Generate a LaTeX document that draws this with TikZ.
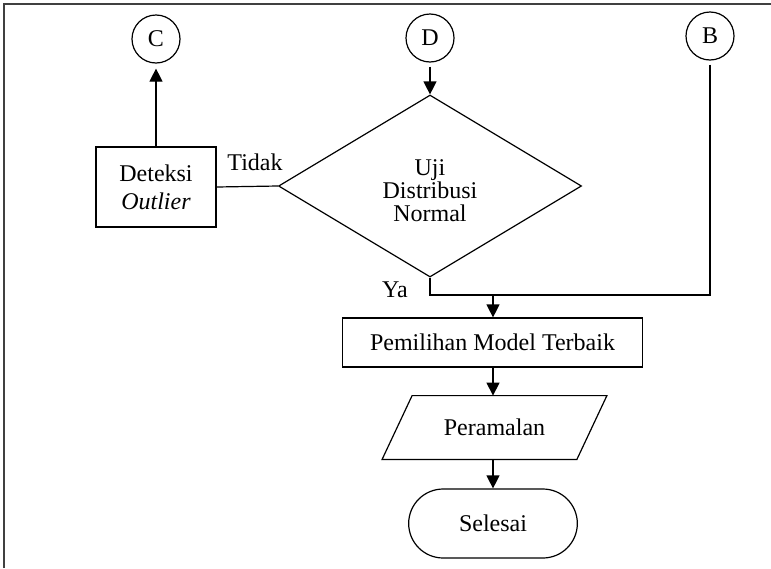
\documentclass[tikz,border=0pt]{standalone}
\usepackage{fontspec}
\setmainfont{Liberation Serif}
\usetikzlibrary{arrows.meta,shapes.geometric,shapes.misc}
\begin{document}
\begin{tikzpicture}[x=0.5pt,y=-0.5pt,
  every node/.style={font=\fontsize{12}{14}\selectfont},
  conn/.style={draw=black,line width=0.6pt},
  arr/.style={conn,-{Triangle[width=6.5pt,length=6.5pt]}},
  conncirc/.style={draw,circle,line width=0.6pt,minimum size=24pt,inner sep=0pt},
  procbox/.style={draw,line width=0.6pt,inner sep=0pt,align=center},
]
\useasboundingbox (0,0) rectangle (771,568);
\draw[line width=1pt,black!75] (4,568) -- (4,4) -- (771,4);

\node[conncirc] (C) at (156,39) {C};
\node[conncirc] (D) at (430,38) {D};
\node[conncirc] (B) at (710,36) {B};

\node[procbox,minimum width=60pt,minimum height=40pt] (det) at (156,187) {Deteksi\\\textit{Outlier}};
\node[draw,diamond,line width=0.6pt,minimum width=151.5pt,minimum height=91pt,inner sep=0pt,
  label={[yshift=-2.5pt,align=center,font=\fontsize{12}{11.5}\selectfont]center:{Uji\\Distribusi\\Normal}}] (uji) at (430,186) {};
\node (tidak) at (255,162) {Tidak};
\node (ya) at (395,290) {Ya};

\node[procbox,minimum width=150pt,minimum height=24.5pt] (pem) at (492.5,342.5) {Pemilihan Model Terbaik};
\node[minimum width=97pt,minimum height=31.5pt,inner sep=0pt] (per) at (494.5,427.5) {Peramalan};
\draw[conn] ([xshift=7.5pt]per.north west) -- ([xshift=7.5pt]per.north east) -- ([xshift=-7.5pt]per.south east) -- ([xshift=-7.5pt]per.south west) -- cycle;
\node[draw,rounded rectangle,line width=0.6pt,minimum width=91pt,minimum height=34.5pt] (sel) at (493,523.5) {Selesai};

\draw[arr,shorten >=2.5pt] (det.north) -- (det.north |- C.south);
\draw[arr,shorten <=2pt] (D.south) -- (D.south |- uji.north);
\draw[conn] (uji.west) -- (det.east);
\coordinate (j) at (493,295);
\draw[conn] (uji.south) |- (j);
\draw[conn,shorten <=2pt] (B.south) |- (j);
\draw[arr] (j) -- (j |- pem.north);
\draw[arr] (j |- pem.south) -- (j |- per.north);
\draw[arr] (j |- per.south) -- (j |- sel.north);
\end{tikzpicture}
\end{document}
